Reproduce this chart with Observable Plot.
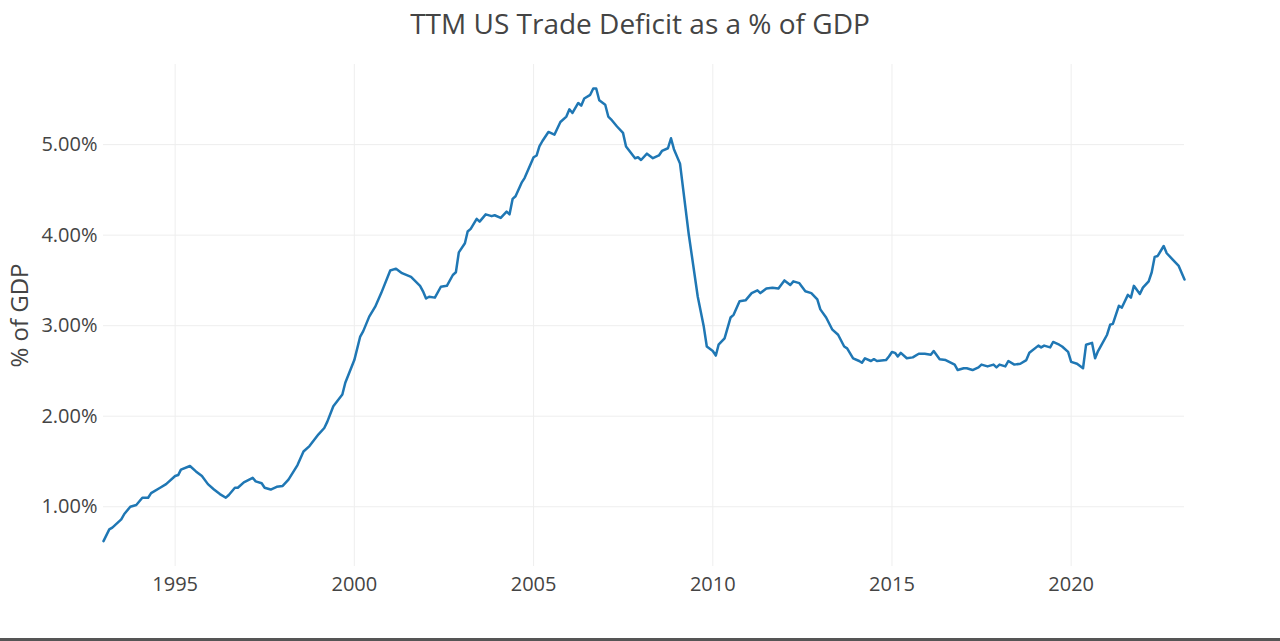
<!DOCTYPE html>
<html>
<head>
<meta charset="utf-8">
<script src="https://cdn.jsdelivr.net/npm/d3@7"></script>
<script src="https://cdn.jsdelivr.net/npm/@observablehq/plot@0.6"></script>
<style>
  html, body { margin: 0; padding: 0; background: #fff; width: 1280px; height: 641px; overflow: hidden; }
  #title { height: 44px; line-height: 46px; text-align: center; font-family: "Open Sans", sans-serif; font-size: 28px; color: #444; }
  #bar { height: 3px; background: #555; }
  svg { display: block; }
</style>
</head>
<body>
<div id="title">TTM US Trade Deficit as a % of GDP</div>
<div id="chart"></div>
<div id="bar"></div>
<script>
const months = [
"1993-01","1993-03","1993-04","1993-07","1993-08","1993-10","1993-12",
"1994-02","1994-04","1994-05","1994-08","1994-10",
"1995-01","1995-02","1995-03","1995-06","1995-08","1995-10","1995-12",
"1996-02","1996-04","1996-06","1996-07","1996-09","1996-10","1996-12",
"1997-03","1997-04","1997-06","1997-07","1997-09","1997-11",
"1998-01","1998-03","1998-06","1998-08","1998-10",
"1999-01","1999-03","1999-04","1999-06","1999-09","1999-10",
"2000-01","2000-03","2000-04","2000-06","2000-08","2000-10",
"2001-01","2001-03","2001-05","2001-08","2001-11","2001-12",
"2002-01","2002-02","2002-04","2002-06","2002-08","2002-10","2002-11","2002-12",
"2003-02","2003-03","2003-04","2003-06","2003-07","2003-09","2003-11","2003-12",
"2004-02","2004-04","2004-05","2004-06","2004-07","2004-09","2004-10",
"2005-01","2005-02","2005-03","2005-04","2005-06","2005-08","2005-10","2005-12",
"2006-01","2006-02","2006-04","2006-05","2006-06","2006-08","2006-09","2006-10","2006-11",
"2007-01","2007-02","2007-03","2007-05","2007-07","2007-08","2007-11","2007-12",
"2008-01","2008-03","2008-05","2008-07","2008-08","2008-10","2008-11","2008-12",
"2009-02","2009-05","2009-08","2009-10","2009-11",
"2010-01","2010-02","2010-03","2010-05","2010-07","2010-08","2010-10","2010-12",
"2011-02","2011-04","2011-05","2011-07","2011-09","2011-11",
"2012-01","2012-03","2012-04","2012-06","2012-08","2012-10","2012-12",
"2013-01","2013-03","2013-05","2013-07","2013-09","2013-10","2013-12",
"2014-02","2014-03","2014-04","2014-06","2014-07","2014-08","2014-11","2014-12",
"2015-01","2015-02","2015-03","2015-04","2015-06","2015-08","2015-10","2015-12",
"2016-02","2016-03","2016-05","2016-07","2016-10","2016-11",
"2017-01","2017-02","2017-04","2017-06","2017-07","2017-09","2017-11","2017-12",
"2018-01","2018-03","2018-04","2018-06","2018-08","2018-10","2018-11",
"2019-02","2019-03","2019-04","2019-06","2019-07","2019-09","2019-10","2019-12",
"2020-01","2020-03","2020-05","2020-06","2020-08","2020-09","2020-10","2020-11",
"2021-01","2021-02","2021-03","2021-05","2021-06","2021-08","2021-09","2021-10","2021-12",
"2022-01","2022-03","2022-04","2022-05","2022-06","2022-08","2022-09","2022-11",
"2023-01","2023-03"
];
const deficitPct = [
0.62,0.75,0.77,0.86,0.92,1.00,1.02,
1.10,1.10,1.15,1.21,1.25,
1.34,1.35,1.41,1.45,1.39,1.34,1.25,
1.19,1.14,1.10,1.13,1.21,1.21,1.27,
1.32,1.28,1.26,1.21,1.19,1.22,
1.23,1.30,1.46,1.61,1.67,
1.80,1.87,1.94,2.11,2.24,2.37,
2.62,2.88,2.94,3.10,3.21,3.36,
3.61,3.63,3.58,3.54,3.44,3.38,
3.30,3.32,3.31,3.43,3.44,3.56,3.59,3.81,
3.91,4.04,4.07,4.18,4.15,4.23,4.21,4.22,
4.19,4.26,4.23,4.40,4.43,4.58,4.63,
4.86,4.88,4.98,5.04,5.14,5.11,5.25,5.31,
5.39,5.35,5.46,5.43,5.51,5.55,5.62,5.62,5.49,
5.44,5.31,5.28,5.20,5.13,4.98,4.85,4.86,
4.83,4.90,4.85,4.88,4.93,4.96,5.07,4.95,
4.79,4.01,3.32,2.99,2.77,
2.72,2.67,2.79,2.86,3.09,3.12,3.27,3.28,
3.36,3.39,3.36,3.41,3.42,3.41,
3.50,3.45,3.49,3.47,3.38,3.36,3.29,
3.18,3.09,2.96,2.90,2.77,2.75,2.64,
2.61,2.59,2.64,2.61,2.63,2.61,2.62,2.66,
2.71,2.70,2.66,2.70,2.64,2.65,2.69,2.69,
2.68,2.72,2.63,2.62,2.57,2.51,
2.53,2.53,2.51,2.54,2.57,2.55,2.57,2.54,
2.57,2.55,2.61,2.57,2.58,2.62,2.70,
2.78,2.76,2.78,2.76,2.82,2.79,2.77,2.71,
2.60,2.58,2.53,2.79,2.81,2.64,2.72,2.78,
2.90,3.01,3.02,3.22,3.20,3.34,3.31,3.44,3.35,
3.42,3.49,3.59,3.76,3.77,3.88,3.80,3.73,
3.66,3.51
];
const yTicks = [1, 2, 3, 4, 5];
const xTickYears = [1995, 2000, 2005, 2010, 2015, 2020];

const parse = d3.utcParse("%Y-%m");
const data = months.map((m, i) => ({date: parse(m), value: deficitPct[i]}));
const xTicks = xTickYears.map(y => new Date(Date.UTC(y, 0, 1)));

const chart = Plot.plot({
  width: 1280,
  height: 594,
  marginLeft: 103,
  marginRight: 96,
  marginTop: 20,
  marginBottom: 72,
  style: {fontFamily: "'Open Sans', sans-serif", fontSize: "20px", color: "#444", background: "#fff"},
  x: {type: "utc", ticks: xTicks, tickFormat: d3.utcFormat("%Y"), tickSize: 0, tickPadding: 10, label: null},
  y: {domain: [0.34, 5.885], ticks: yTicks, tickFormat: d => d.toFixed(2) + "%", tickSize: 0, tickPadding: 6, label: null},
  marks: [
    Plot.gridX(xTicks, {stroke: "#eee", strokeOpacity: 1, strokeWidth: 1}),
    Plot.gridY(yTicks, {stroke: "#eee", strokeOpacity: 1, strokeWidth: 1}),
    Plot.axisX(xTicks, {tickSize: 0, tickPadding: 10, tickFormat: d3.utcFormat("%Y"), fill: "#444", fontSize: 20, label: null}),
    Plot.axisY(yTicks, {tickSize: 0, tickPadding: 6, tickFormat: d => d.toFixed(2) + "%", fill: "#444", fontSize: 20, label: null}),
    Plot.lineY(data, {x: "date", y: "value", stroke: "#1f77b4", strokeWidth: 2.5, curve: "linear"}),
    Plot.text(["% of GDP"], {frameAnchor: "left", dx: -83, rotate: -90, textAnchor: "middle", fontSize: 24, fill: "#444", text: d => d})
  ]
});
document.getElementById("chart").appendChild(chart);
</script>
</body>
</html>
